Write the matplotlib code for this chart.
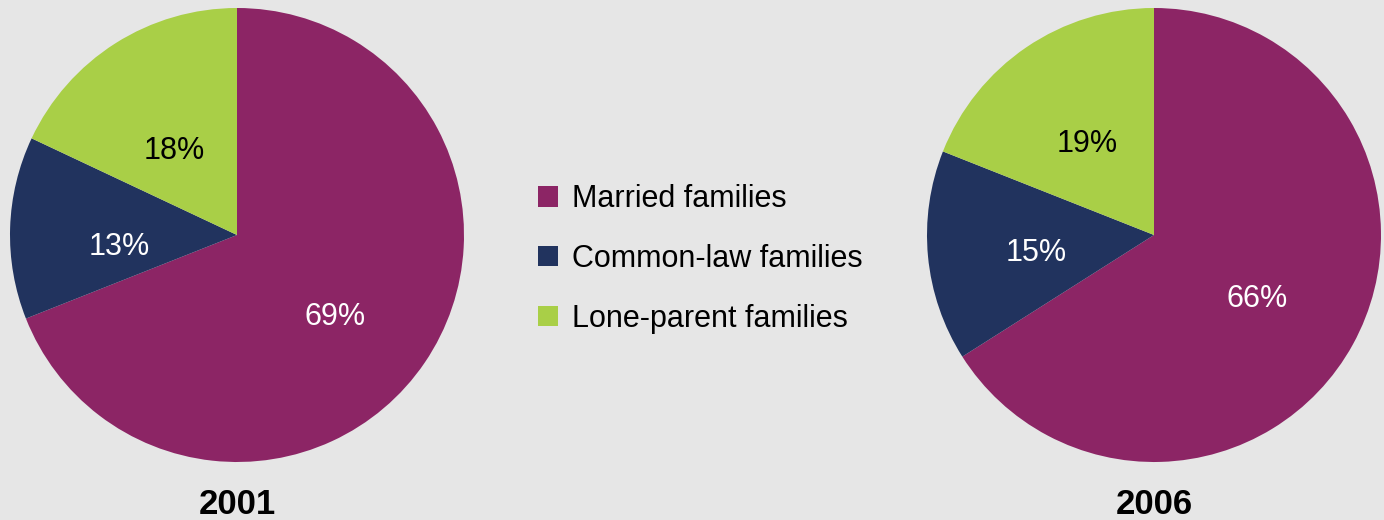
import matplotlib
matplotlib.use('Agg')
import matplotlib.pyplot as plt
from matplotlib.patches import Patch

categories = ['Married families', 'Common-law families', 'Lone-parent families']
years = ['2001', '2006']
shares_2001 = [69, 13, 18]
shares_2006 = [66, 15, 19]
colors = ['#8c2565', '#21335e', '#a9cf47']
pct_colors = ['white', 'white', 'black']

plt.rcParams['font.family'] = ['Liberation Sans', 'DejaVu Sans']

fig = plt.figure(figsize=(13.84, 5.2), dpi=100)
fig.patch.set_facecolor('#e6e6e6')

W, H = 1384, 520
pie_boxes = [(10, 464), (927, 1381)]
label_drop = [0.07, 0.03]
for (x0, x1), year, shares, drop in zip(pie_boxes, years, [shares_2001, shares_2006], label_drop):
    ax = fig.add_axes([x0 / W, (H - 462) / H, (x1 - x0) / W, 454 / H])
    wedges, texts, autotexts = ax.pie(
        shares, colors=colors, startangle=90, counterclock=False,
        autopct='%d%%', pctdistance=0.52,
        wedgeprops=dict(linewidth=0),
        textprops=dict(fontsize=22))
    for t, c in zip(autotexts, pct_colors):
        t.set_color(c)
        x, y = t.get_position()
        t.set_position((x, y - drop))
    ax.set_xlim(-1, 1)
    ax.set_ylim(-1, 1)
    ax.set_aspect('equal')
    fig.text((x0 + x1) / 2 / W, 1 - 505 / H, year, ha='center', va='center',
             fontsize=25, fontweight='bold')

handles = [Patch(facecolor=c, edgecolor='none') for c in colors]
fig.legend(handles, categories, loc='center left',
           bbox_to_anchor=(538 / W, 1 - 259 / H), frameon=False,
           fontsize=22, handlelength=0.65, handleheight=0.65,
           handletextpad=0.46, labelspacing=0.97, borderpad=0, borderaxespad=0)

fig.savefig('out.png', dpi=100, facecolor=fig.get_facecolor())
